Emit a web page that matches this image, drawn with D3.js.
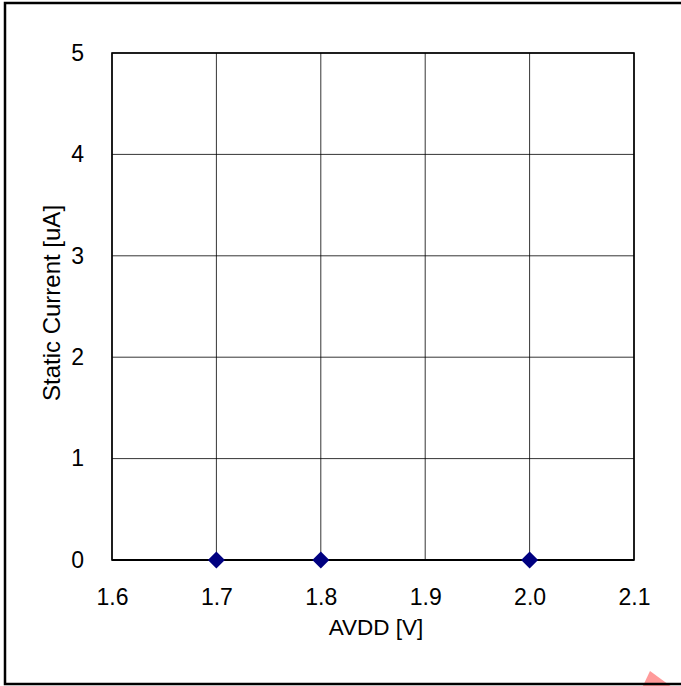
<!DOCTYPE html>
<html>
<head>
<meta charset="utf-8">
<script src="https://cdn.jsdelivr.net/npm/d3@7"></script>
<style>
  body { margin: 0; background: #fff; }
  text { font-family: "Liberation Sans", Arial, sans-serif; fill: #000; }
</style>
</head>
<body>
<div id="chart-area"></div>
<script>
// data
var avdd = [1.7, 1.8, 2.0];
var current = [0, 0, 0];
var xTicks = [1.6, 1.7, 1.8, 1.9, 2.0, 2.1];
var yTicks = [0, 1, 2, 3, 4, 5];

var W = 681, H = 686;
var margin = { left: 112, right: 47, top: 53, bottom: 126 };
var width = W - margin.left - margin.right,
    height = H - margin.top - margin.bottom;

var svg = d3.select("#chart-area")
    .append("svg")
        .attr("width", W)
        .attr("height", H);

// pink corner mark
svg.append("polygon")
    .attr("points", "650,671 641,690 676,690")
    .attr("fill", "#ff9a9a");

// outer frame
svg.append("rect")
    .attr("x", 5).attr("y", 3)
    .attr("width", W + 10).attr("height", 681)
    .attr("fill", "none")
    .attr("stroke", "#000")
    .attr("stroke-width", 2.5);

var g = svg.append("g")
    .attr("transform", "translate(" + margin.left + ", " + margin.top + ")");

// X Scale
var x = d3.scaleLinear()
    .domain([1.6, 2.1])
    .range([0, width]);

// Y Scale
var y = d3.scaleLinear()
    .domain([0, 5])
    .range([height, 0]);

// grid
g.selectAll(".vgrid")
    .data(xTicks)
    .enter().append("line")
        .attr("class", "vgrid")
        .attr("x1", function(d){ return x(d); })
        .attr("x2", function(d){ return x(d); })
        .attr("y1", 0).attr("y2", height)
        .attr("stroke", "#000")
        .attr("stroke-width", 0.8);

g.selectAll(".hgrid")
    .data(yTicks)
    .enter().append("line")
        .attr("class", "hgrid")
        .attr("y1", function(d){ return y(d); })
        .attr("y2", function(d){ return y(d); })
        .attr("x1", 0).attr("x2", width)
        .attr("stroke", "#000")
        .attr("stroke-width", 0.8);

// plot frame
g.append("rect")
    .attr("width", width).attr("height", height)
    .attr("fill", "none")
    .attr("stroke", "#000")
    .attr("stroke-width", 1.6);
g.append("line")
    .attr("x1", 0).attr("x2", width)
    .attr("y1", height).attr("y2", height)
    .attr("stroke", "#000")
    .attr("stroke-width", 2.2);

// X Axis labels
var xAxisCall = d3.axisBottom(x)
    .tickValues(xTicks)
    .tickSize(0)
    .tickPadding(29)
    .tickFormat(d3.format(".1f"));
var xAxisGroup = g.append("g")
    .attr("transform", "translate(0," + height + ")")
    .call(xAxisCall);
xAxisGroup.select(".domain").remove();
xAxisGroup.selectAll("text")
    .style("font-size", "23px")
    .style("font-family", "Liberation Sans, Arial, sans-serif");

// Y Axis labels
var yAxisCall = d3.axisLeft(y)
    .tickValues(yTicks)
    .tickSize(0)
    .tickPadding(28)
    .tickFormat(d3.format("d"));
var yAxisGroup = g.append("g").call(yAxisCall);
yAxisGroup.select(".domain").remove();
yAxisGroup.selectAll("text")
    .style("font-size", "23px")
    .style("font-family", "Liberation Sans, Arial, sans-serif");

// X Label
g.append("text")
    .attr("x", 376 - margin.left)
    .attr("y", 635 - margin.top)
    .style("font-size", "22.5px")
    .attr("text-anchor", "middle")
    .text("AVDD [V]");

// Y Label
g.append("text")
    .attr("transform", "rotate(-90)")
    .attr("x", -250)
    .attr("y", -52)
    .style("font-size", "24px")
    .attr("text-anchor", "middle")
    .text("Static Current [uA]");

// points
var pts = avdd.map(function(d, i){ return { v: d, c: current[i] }; });
g.selectAll(".pt")
    .data(pts)
    .enter().append("path")
        .attr("class", "pt")
        .attr("d", "M0,-8.5L8.5,0L0,8.5L-8.5,0Z")
        .attr("transform", function(d){ return "translate(" + x(d.v) + "," + y(d.c) + ")"; })
        .attr("fill", "#000080");
</script>
</body>
</html>
